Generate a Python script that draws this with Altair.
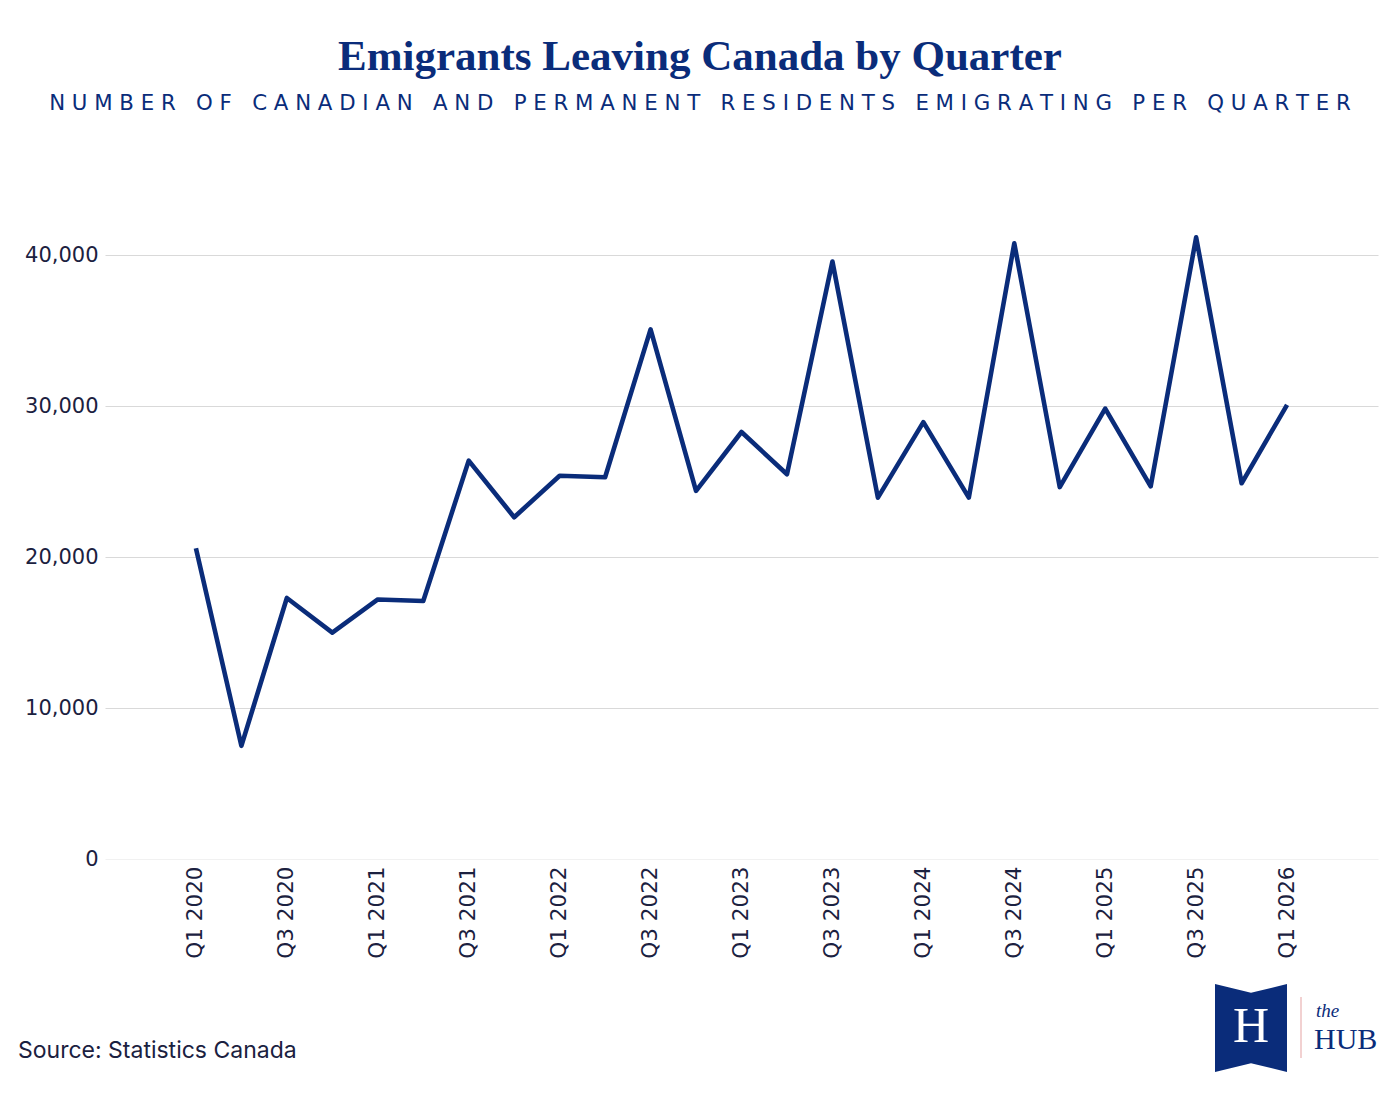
import altair as alt
import pandas as pd

quarters = ["Q1 2020", "Q2 2020", "Q3 2020", "Q4 2020",
            "Q1 2021", "Q2 2021", "Q3 2021", "Q4 2021",
            "Q1 2022", "Q2 2022", "Q3 2022", "Q4 2022",
            "Q1 2023", "Q2 2023", "Q3 2023", "Q4 2023",
            "Q1 2024", "Q2 2024", "Q3 2024", "Q4 2024",
            "Q1 2025", "Q2 2025", "Q3 2025", "Q4 2025",
            "Q1 2026"]
emigrants = [20600, 7500, 17300, 15000,
             17200, 17100, 26400, 22650,
             25400, 25300, 35100, 24400,
             28300, 25500, 39600, 23950,
             28950, 23950, 40800, 24650,
             29850, 24700, 41200, 24900,
             30100]
y_ticks = [0, 10000, 20000, 30000, 40000]

title_text = "Emigrants Leaving Canada by Quarter"
subtitle_text = "NUMBER OF CANADIAN AND PERMANENT RESIDENTS EMIGRATING PER QUARTER"
source_text = "Source: Statistics Canada"

NAVY = "#0a2c7a"
LABEL = "#1b2140"
NB = "\u00a0"

df = pd.DataFrame({"idx": list(range(len(quarters))), "quarter": quarters, "emigrants": emigrants})
x_tick_idx = [i for i, q in enumerate(quarters) if q.startswith(("Q1", "Q3"))]
label_lookup = "[" + ",".join("'" + q + "'" for q in quarters) + "][datum.value]"

def spaced(s):
    return (NB * 3).join(NB.join(list(w)) for w in s.split(" "))

W, H = 1273, 679

line = alt.Chart(df).mark_line(color=NAVY, strokeWidth=4.6, strokeJoin="round").encode(
    x=alt.X("idx:Q", title=None,
            scale=alt.Scale(domain=[-2, len(quarters) + 1], nice=False, zero=False),
            axis=alt.Axis(values=x_tick_idx, labelExpr=label_lookup, labelAngle=-90,
                          ticks=False, domain=False, grid=False, labelPadding=7,
                          labelFontSize=21.5, labelColor=LABEL, labelFont="DejaVu Sans",
                          labelFlush=False, labelOverlap=False)),
    y=alt.Y("emigrants:Q", title=None,
            scale=alt.Scale(domain=[0, 45000], nice=False),
            axis=alt.Axis(values=y_ticks, labelExpr="format(datum.value, ',')",
                          ticks=False, domain=False,
                          labelPadding=7, labelFontSize=21, labelColor=LABEL,
                          labelFont="DejaVu Sans",
                          gridColor=alt.condition(alt.datum.value == 0, alt.value("#f1f1f1"), alt.value("#d9d9d9")),
                          gridWidth=1.2)),
)

one = pd.DataFrame({"k": [0]})

title = alt.Chart(one).mark_text(font="Liberation Serif", fontSize=43, fontWeight="bold",
                                 color=NAVY, align="center", baseline="alphabetic").encode(
    x=alt.value(595), y=alt.value(-110), text=alt.value(title_text))

subtitle = alt.Chart(one).mark_text(font="DejaVu Sans", fontSize=21.3,
                                    color=NAVY, align="center", baseline="alphabetic").encode(
    x=alt.value(595), y=alt.value(-70), text=alt.value(spaced(subtitle_text)))

source = alt.Chart(one).mark_text(font="Inter", fontSize=23, color=LABEL,
                                  align="left", baseline="alphabetic").encode(
    x=alt.value(-87), y=alt.value(878), text=alt.value(source_text))

banner_path = "M-0.818,-1 L0,-0.8 L0.818,-1 L0.818,1 L0,0.8 L-0.818,1 Z"
banner = alt.Chart(one).mark_point(shape=banner_path, filled=True, fill=NAVY,
                                   strokeWidth=0, opacity=1, size=88 * 88).encode(
    x=alt.value(1146), y=alt.value(848))
h_letter = alt.Chart(one).mark_text(font="Liberation Serif", fontSize=50, color="white",
                                    align="center", baseline="middle").encode(
    x=alt.value(1146), y=alt.value(847), text=alt.value("H"))
divider = alt.Chart(one).mark_rule(color="#e5a3a3", strokeWidth=1).encode(
    x=alt.value(1196), y=alt.value(817), y2=alt.value(878))
the_text = alt.Chart(one).mark_text(font="Liberation Serif", fontSize=19, fontStyle="italic",
                                    color=NAVY, align="left", baseline="alphabetic").encode(
    x=alt.value(1211), y=alt.value(837), text=alt.value("the"))
hub_text = alt.Chart(one).mark_text(font="Liberation Serif", fontSize=30,
                                    color=NAVY, align="left", baseline="alphabetic").encode(
    x=alt.value(1209), y=alt.value(869), text=alt.value("HUB"))

chart = alt.layer(line, title, subtitle, source, banner, h_letter, divider, the_text, hub_text).properties(
    width=W, height=H,
    autosize=alt.AutoSizeParams(type="none"),
    padding={"left": 105, "top": 180, "right": 22, "bottom": 236},
    background="white",
).configure_view(stroke=None)

chart.save("out.html", embed_options={"renderer": "svg", "actions": False})
